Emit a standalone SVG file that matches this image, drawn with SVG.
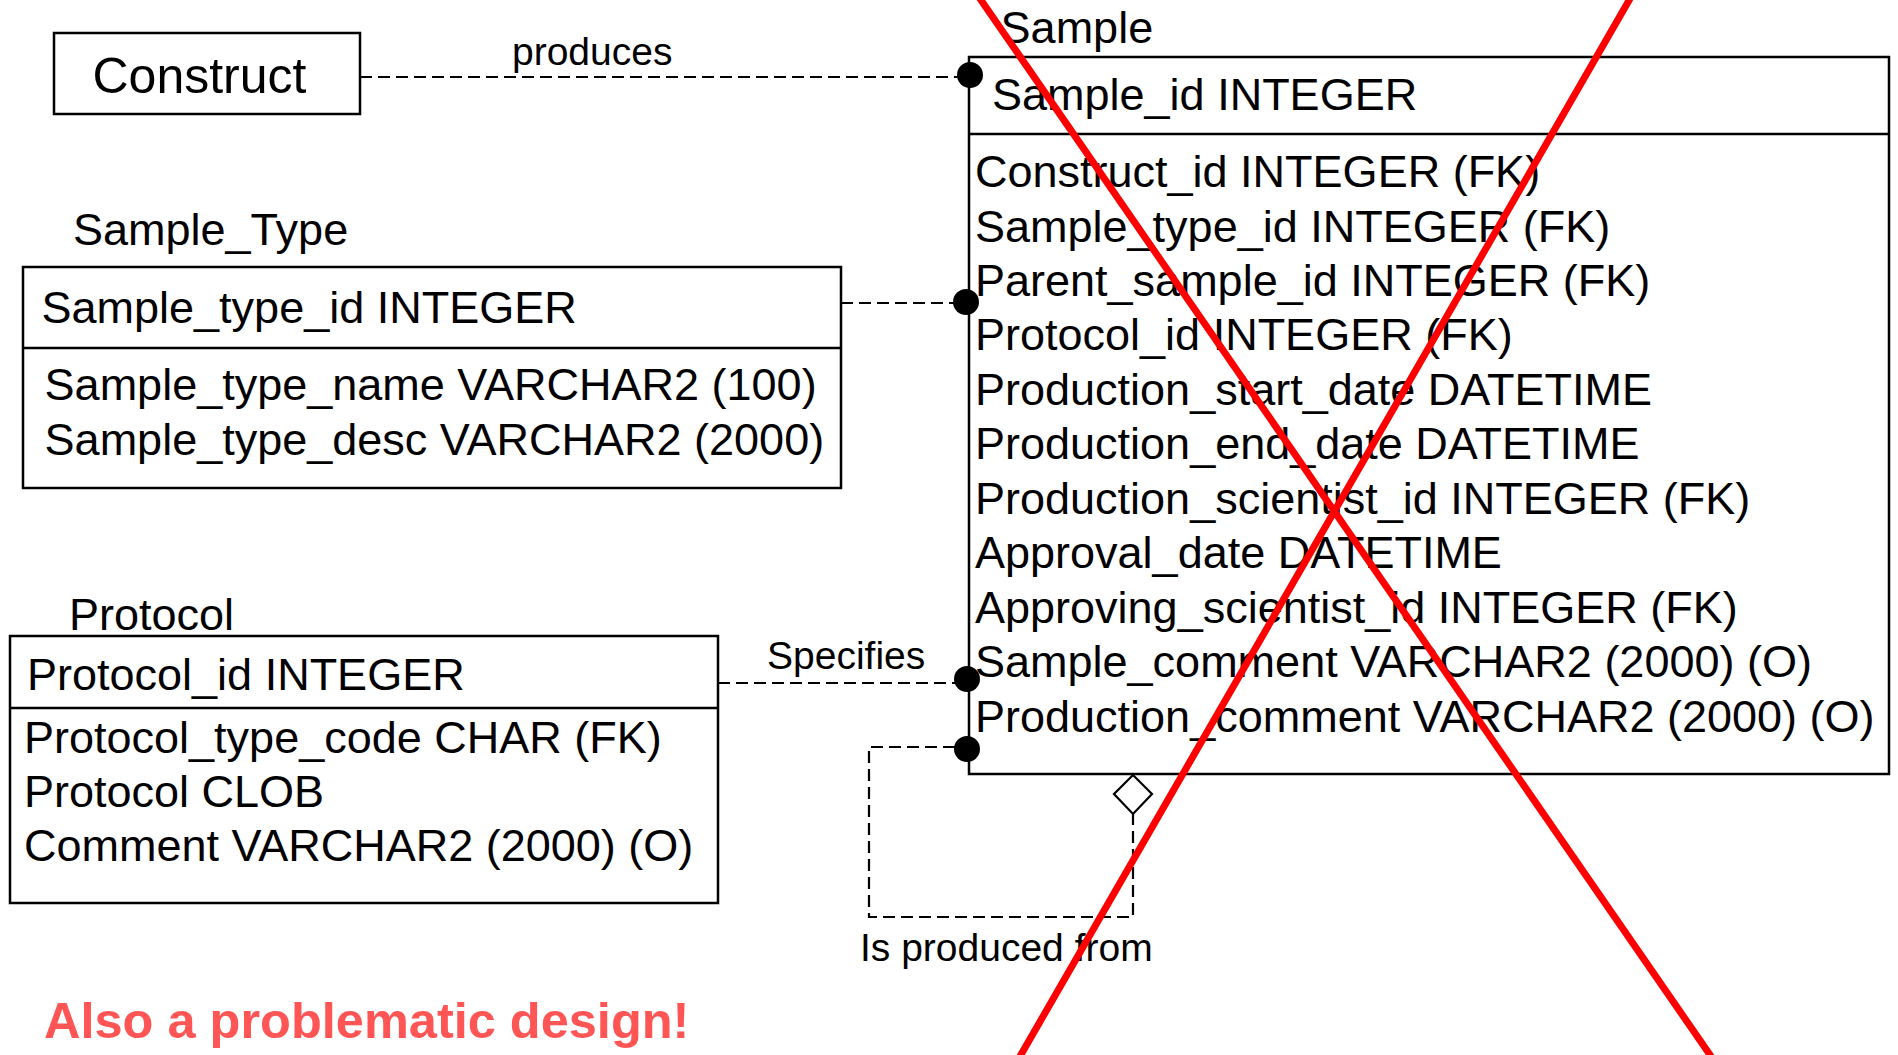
<svg xmlns="http://www.w3.org/2000/svg" width="1898" height="1055" viewBox="0 0 1898 1055">
<style>
text{font-family:"Liberation Sans",Arial,sans-serif;fill:#000}
.t{font-size:45px}
.rel{font-size:39px}
.box{fill:#fff;stroke:#000;stroke-width:2.5}
.div{stroke:#000;stroke-width:2.5}
.dash{fill:none;stroke:#000;stroke-width:2.2;stroke-dasharray:12 6}
.dot{fill:#000}
.x{stroke:#ff0000;stroke-width:7;stroke-linecap:butt}
</style>
<rect width="1898" height="1055" fill="#fff"/>
<g id="construct">
<rect class="box" x="54" y="33" width="306" height="81"/>
<text x="92.5" y="92.7" style="font-size:50px">Construct</text>
</g>
<g id="sample_type">
<text class="t" x="73" y="245">Sample_Type</text>
<rect class="box" x="23" y="267" width="818" height="221"/>
<line class="div" x1="23" y1="348" x2="841" y2="348"/>
<text class="t" x="41.5" y="323">Sample_type_id INTEGER</text>
<text class="t" x="44.6" y="400">Sample_type_name VARCHAR2 (100)</text>
<text class="t" x="44.6" y="455">Sample_type_desc VARCHAR2 (2000)</text>
</g>
<g id="protocol">
<text class="t" x="69" y="630">Protocol</text>
<rect class="box" x="10" y="636" width="708" height="267"/>
<line class="div" x1="10" y1="708" x2="718" y2="708"/>
<text class="t" x="27" y="690">Protocol_id INTEGER</text>
<text class="t" x="24" y="752.6">Protocol_type_code CHAR (FK)</text>
<text class="t" x="24" y="806.5">Protocol CLOB</text>
<text class="t" x="24" y="860.5">Comment VARCHAR2 (2000) (O)</text>
</g>
<g id="sample">
<text class="t" x="1000.6" y="43.3">Sample</text>
<rect class="box" x="969" y="57" width="920" height="717"/>
<line class="div" x1="969" y1="134" x2="1889" y2="134"/>
<text class="t" x="992" y="110">Sample_id INTEGER</text>
<text class="t" x="975" y="187">Construct_id INTEGER (FK)</text>
<text class="t" x="975" y="241.5">Sample_type_id INTEGER (FK)</text>
<text class="t" x="975" y="296">Parent_sample_id INTEGER (FK)</text>
<text class="t" x="975" y="350.3">Protocol_id INTEGER (FK)</text>
<text class="t" x="975" y="404.8">Production_start_date DATETIME</text>
<text class="t" x="975" y="459.2">Production_end_date DATETIME</text>
<text class="t" x="975" y="513.7">Production_scientist_id INTEGER (FK)</text>
<text class="t" x="975" y="568.1">Approval_date DATETIME</text>
<text class="t" x="975" y="622.6">Approving_scientist_id INTEGER (FK)</text>
<text class="t" x="975" y="677">Sample_comment VARCHAR2 (2000) (O)</text>
<text class="t" x="975" y="731.5">Production_comment VARCHAR2 (2000) (O)</text>
</g>
<g id="connectors">
<line class="dash" x1="360" y1="77" x2="958" y2="77"/>
<line class="dash" x1="841" y1="303" x2="955" y2="303"/>
<line class="dash" x1="718" y1="683" x2="955" y2="683"/>
<path class="dash" d="M955 747 H869 V917 H1133 V814"/>
<polygon points="1133,775 1152,794 1133,814 1114,794" fill="#fff" stroke="#000" stroke-width="2.2"/>
<circle class="dot" cx="970" cy="75" r="13"/>
<circle class="dot" cx="966" cy="302" r="13"/>
<circle class="dot" cx="967" cy="679" r="13"/>
<circle class="dot" cx="967" cy="749" r="13"/>
<text class="rel" x="512" y="65">produces</text>
<text class="rel" x="767" y="669">Specifies</text>
<text class="rel" x="860" y="961">Is produced from</text>
</g>
<g id="note">
<text x="44" y="1038" style="font-size:50.5px;font-weight:bold;fill:#ff5555">Also a problematic design!</text>
</g>
<g id="cross">
<line class="x" x1="974" y1="-10" x2="1717" y2="1065"/>
<line class="x" x1="1635" y1="-10" x2="1015" y2="1065"/>
</g>
</svg>
